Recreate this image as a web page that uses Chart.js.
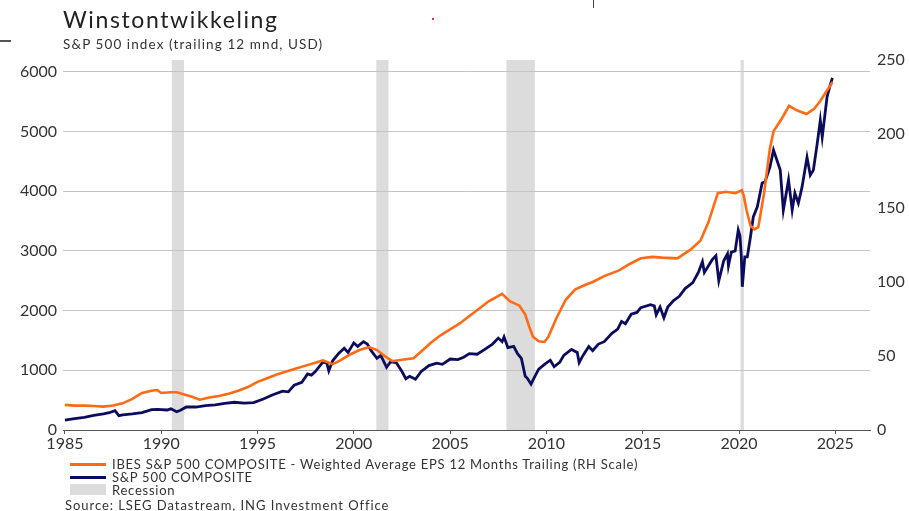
<!DOCTYPE html>
<html>
<head>
<meta charset="utf-8">
<script src="https://cdn.jsdelivr.net/npm/chart.js@4"></script>
<style>
  body { margin: 0; background: #fff; font-family: Lato, "Noto Sans", sans-serif; color: #333; }
  #wrap { position: relative; width: 909px; height: 511px; overflow: hidden; }
  canvas { position: absolute; left: 0; top: 0; }
  .txt { position: absolute; white-space: nowrap; }
  #title { left: 63px; top: 5px; font-size: 23px; letter-spacing: 1.6px; color: #222; }
  #subtitle { left: 63px; top: 36px; font-size: 13.5px; letter-spacing: 1.1px; }
  .leg { position: absolute; left: 70px; font-size: 13px; letter-spacing: 0.75px; white-space: nowrap; }
  .leg i { position: absolute; left: 0; width: 36px; }
  .leg span { position: absolute; left: 42px; top: 0; }
  #source { left: 65px; top: 497px; font-size: 13px; letter-spacing: 0.95px; }
</style>
</head>
<body>
<div id="wrap">
  <canvas id="chart" width="909" height="511"></canvas>
  <div class="txt" id="title">Winstontwikkeling</div>
  <div class="txt" id="subtitle">S&amp;P 500 index (trailing 12 mnd, USD)</div>
  <div class="leg" style="top:456px"><i style="top:7px;height:3px;background:#ff6a13"></i><span>IBES S&amp;P 500 COMPOSITE - Weighted Average EPS 12 Months Trailing (RH Scale)</span></div>
  <div class="leg" style="top:469px"><i style="top:7px;height:3px;background:#0c0c5e"></i><span>S&amp;P 500 COMPOSITE</span></div>
  <div class="leg" style="top:482px"><i style="top:2px;height:11px;background:#dcdcdc"></i><span>Recession</span></div>
  <div class="txt" id="source">Source: LSEG Datastream, ING Investment Office</div>
  <div style="position:absolute;left:0;top:40px;width:11px;height:2px;background:#555"></div>
  <div style="position:absolute;left:432px;top:18px;width:2px;height:2px;background:#e33"></div>
  <div style="position:absolute;left:593px;top:0;width:1px;height:8px;background:#444"></div>
</div>
<script>
// S&P 500 index level (left scale)
const spxYears = [
  1985.0, 1985.5, 1986.0, 1986.5, 1987.0, 1987.3, 1987.6, 1987.8, 1988.0, 1988.5,
  1989.0, 1989.5, 1989.8, 1990.3, 1990.5, 1990.8, 1991.0, 1991.3, 1991.8, 1992.3,
  1992.8, 1993.3, 1993.8, 1994.3, 1994.8, 1995.3, 1995.8, 1996.3, 1996.6, 1996.9,
  1997.3, 1997.6, 1997.8, 1998.0, 1998.4, 1998.6, 1998.7, 1998.9, 1999.2, 1999.5,
  1999.7, 2000.0, 2000.2, 2000.5, 2000.7, 2000.9, 2001.2, 2001.4, 2001.7, 2001.9,
  2002.2, 2002.5, 2002.7, 2002.9, 2003.2, 2003.5, 2003.9, 2004.3, 2004.6, 2005.0,
  2005.4, 2005.7, 2006.0, 2006.4, 2006.8, 2007.2, 2007.5, 2007.7, 2007.8, 2008.0,
  2008.3, 2008.5, 2008.7, 2008.9, 2009.0, 2009.2, 2009.4, 2009.6, 2009.9, 2010.2,
  2010.4, 2010.7, 2010.9, 2011.3, 2011.6, 2011.7, 2011.9, 2012.2, 2012.4, 2012.7,
  2013.0, 2013.4, 2013.7, 2013.9, 2014.1, 2014.4, 2014.7, 2014.9, 2015.4, 2015.6,
  2015.7, 2015.9, 2016.1, 2016.3, 2016.6, 2016.9, 2017.2, 2017.6, 2017.9, 2018.1,
  2018.2, 2018.6, 2018.8, 2018.95, 2019.2, 2019.4, 2019.45, 2019.6, 2019.8, 2019.96,
  2020.05, 2020.12, 2020.17, 2020.3, 2020.43, 2020.6, 2020.74, 2020.95, 2021.2, 2021.35,
  2021.6, 2021.79, 2022.14, 2022.3, 2022.57, 2022.76, 2022.9, 2023.08, 2023.27, 2023.53,
  2023.7, 2023.86, 2024.06, 2024.22, 2024.32, 2024.57, 2024.75, 2024.85
];
const spxValues = [
  165, 190, 210, 245, 270, 290, 325, 240, 255, 270,
  290, 340, 345, 335, 355, 305, 330, 385, 385, 410,
  420, 445, 465, 450, 460, 520, 590, 650, 640, 750,
  800, 940, 920, 980, 1140, 1120, 990, 1160, 1280, 1370,
  1300, 1460, 1400, 1480, 1440, 1330, 1200, 1250, 1050, 1140,
  1130, 980, 860, 900, 850, 980, 1080, 1120, 1100, 1190,
  1180, 1220, 1280, 1270, 1350, 1440, 1540, 1480, 1560, 1380,
  1400, 1280, 1200, 900, 870, 770, 900, 1020, 1100, 1170,
  1060, 1140, 1250, 1350, 1300, 1130, 1250, 1400, 1330, 1440,
  1480, 1620, 1690, 1820, 1780, 1940, 1970, 2050, 2100, 2080,
  1930, 2060, 1880, 2060, 2170, 2240, 2370, 2470, 2650, 2820,
  2640, 2850, 2920, 2500, 2830, 2950, 2750, 2980, 3000, 3350,
  3250, 2900, 2400, 2900, 2900, 3250, 3570, 3740, 4140, 4160,
  4400, 4690, 4355, 3685, 4190, 3685, 3970, 3800, 4070, 4570,
  4270, 4355, 4800, 5190, 4910, 5580, 5800, 5900
];

// IBES trailing 12m EPS (right scale)
const epsYears = [
  1985.0, 1985.5, 1986.0, 1986.5, 1987.0, 1987.5, 1988.0, 1988.5, 1989.0, 1989.5,
  1989.8, 1990.0, 1990.5, 1990.8, 1991.2, 1991.6, 1992.0, 1992.5, 1993.0, 1993.5,
  1994.0, 1994.5, 1995.0, 1995.5, 1996.0, 1996.5, 1997.0, 1997.5, 1998.0, 1998.4,
  1998.9, 1999.3, 1999.8, 2000.3, 2000.8, 2001.2, 2001.6, 2002.0, 2002.5, 2003.1,
  2003.5, 2004.0, 2004.5, 2005.0, 2005.5, 2006.0, 2006.6, 2007.0, 2007.7, 2008.1,
  2008.6, 2008.9, 2009.1, 2009.3, 2009.6, 2009.9, 2010.1, 2010.5, 2011.0, 2011.5,
  2012.0, 2012.4, 2013.0, 2013.8, 2014.3, 2014.9, 2015.5, 2016.0, 2016.8, 2017.5,
  2018.0, 2018.4, 2018.9, 2019.3, 2019.8, 2020.15, 2020.25, 2020.4, 2020.6, 2020.8,
  2021.0, 2021.3, 2021.6, 2021.8, 2022.2, 2022.6, 2023.0, 2023.5, 2023.9, 2024.2,
  2024.5, 2024.85
];
const epsValues = [
  17, 16.5, 16.5, 16.2, 15.8, 16.5, 18, 21, 25, 26.5,
  27, 25, 25.5, 25.5, 24, 22.5, 20.5, 22, 23, 24.5,
  26.5, 29, 32.5, 35, 37.5, 39.5, 41.5, 43.5, 45.5, 47,
  44.5, 47, 51, 54, 56, 54, 50, 46.5, 47.5, 48.5,
  53, 59, 64, 68, 72, 77, 83, 87, 92, 87,
  84, 78, 70, 63, 60, 59.5, 63, 75, 88, 95,
  98, 100, 104, 108, 112, 116, 117, 116.5, 116, 122,
  128, 140, 160, 161, 160, 162, 158, 148, 138, 135.5,
  137, 160, 190, 202, 210, 219, 216, 213.5, 217, 222,
  228, 235
];

// recession periods (NBER)
const recessionStart = [1990.55, 2001.17, 2007.92, 2020.08];
const recessionEnd = [1991.18, 2001.8, 2009.4, 2020.25];

const xTickYears = [1985, 1990, 1995, 2000, 2005, 2010, 2015, 2020, 2025];
const leftTicks = [0, 1000, 2000, 3000, 4000, 5000, 6000];
const rightTicks = [0, 50, 100, 150, 200, 250];

const toPoints = (xs, ys) => xs.map((x, i) => ({ x, y: ys[i] }));

const recessionBands = {
  id: 'recessionBands',
  beforeDraw(chart) {
    const { ctx, chartArea, scales } = chart;
    ctx.save();
    ctx.fillStyle = '#dcdcdc';
    recessionStart.forEach((s, i) => {
      const x1 = scales.x.getPixelForValue(s);
      const x2 = scales.x.getPixelForValue(recessionEnd[i]);
      ctx.fillRect(x1, chartArea.top, Math.max(x2 - x1, 2), chartArea.bottom - chartArea.top);
    });
    ctx.restore();
  },
};

const tickFont = { family: 'Lato, "Noto Sans", sans-serif', size: 16 };
const plain = (v) => String(v);

new Chart(document.getElementById('chart'), {
  type: 'line',
  data: {
    datasets: [
      {
        label: 'IBES S&P 500 COMPOSITE - Weighted Average EPS 12 Months Trailing (RH Scale)',
        data: toPoints(epsYears, epsValues),
        yAxisID: 'yRight',
        borderColor: '#ff6a13',
        borderWidth: 2.6,
        pointRadius: 0,
        tension: 0,
      },
      {
        label: 'S&P 500 COMPOSITE',
        data: toPoints(spxYears, spxValues),
        yAxisID: 'yLeft',
        borderColor: '#0c0c5e',
        borderWidth: 2.8,
        pointRadius: 0,
        tension: 0,
      },
    ],
  },
  options: {
    responsive: false,
    animation: false,
    devicePixelRatio: 1,
    layout: { padding: { top: 60, bottom: 59, left: 0, right: 0 } },
    plugins: { legend: { display: false }, tooltip: { enabled: false } },
    scales: {
      x: {
        type: 'linear',
        min: 1984.9,
        max: 2026.8,
        afterBuildTicks: (scale) => { scale.ticks = xTickYears.map((v) => ({ value: v })); },
        afterFit: (scale) => { scale.height = 22; },
        grid: { drawOnChartArea: false, drawTicks: true, tickLength: 4, color: '#555' },
        border: { display: true, color: '#555', width: 1 },
        ticks: { color: '#333', font: tickFont, padding: 0, maxRotation: 0, callback: plain },
      },
      yLeft: {
        position: 'left',
        min: 0,
        max: 6200,
        afterBuildTicks: (scale) => { scale.ticks = leftTicks.map((v) => ({ value: v })); },
        afterFit: (scale) => { scale.width = 63; },
        grid: { color: '#c4c4c4', drawTicks: false },
        border: { display: false },
        ticks: { color: '#333', font: tickFont, padding: 6, callback: plain },
      },
      yRight: {
        position: 'right',
        min: 0,
        max: 250,
        afterBuildTicks: (scale) => { scale.ticks = rightTicks.map((v) => ({ value: v })); },
        afterFit: (scale) => { scale.width = 39; },
        grid: { display: false, drawTicks: false },
        border: { display: false },
        ticks: { color: '#333', font: tickFont, padding: 7, callback: plain },
      },
    },
  },
  plugins: [recessionBands],
});
</script>
</body>
</html>
